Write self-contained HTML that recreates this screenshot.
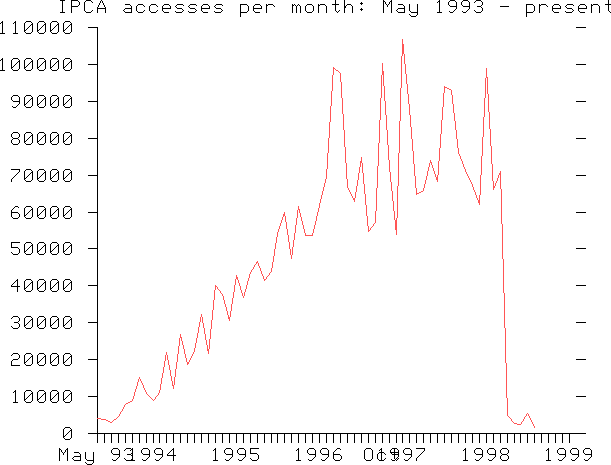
<!DOCTYPE html>
<html><head><meta charset="utf-8"><title>IPCA accesses per month</title>
<style>html,body{margin:0;padding:0;background:#fff;font-family:"Liberation Sans",sans-serif}svg{display:block}</style>
</head><body>
<svg width="611" height="465" viewBox="0 0 611 465" shape-rendering="crispEdges">
<rect width="611" height="465" fill="#fff"/>
<path fill="#000" d="M60 0h5v1h-5zM71 0h1v13h-1zM72 0h6v1h-6zM86 0h5v1h-5zM101 0h1v1h-1zM335 0h1v11h-1zM344 0h1v13h-1zM383 0h1v13h-1zM391 0h1v13h-1zM439 0h1v13h-1zM450 0h5v1h-5zM463 0h5v1h-5zM476 0h5v1h-5zM608 0h1v11h-1zM62 1h1v12h-1zM78 1h1v1h-1zM85 1h1v1h-1zM91 1h1v1h-1zM100 1h1v2h-1zM102 1h1v2h-1zM384 1h1v1h-1zM390 1h1v1h-1zM438 1h1v1h-1zM449 1h1v1h-1zM455 1h1v1h-1zM462 1h1v1h-1zM468 1h1v1h-1zM475 1h1v1h-1zM481 1h1v1h-1zM79 2h1v3h-1zM84 2h1v9h-1zM92 2h1v1h-1zM361 2h1v3h-1zM385 2h1v2h-1zM389 2h1v2h-1zM437 2h1v1h-1zM448 2h1v3h-1zM456 2h1v7h-1zM461 2h1v3h-1zM469 2h1v7h-1zM474 2h1v1h-1zM482 2h1v3h-1zM99 3h1v2h-1zM103 3h1v2h-1zM360 3h1v1h-1zM362 3h1v1h-1zM125 4h5v1h-5zM138 4h5v1h-5zM151 4h5v1h-5zM164 4h5v1h-5zM177 4h6v1h-6zM190 4h6v1h-6zM203 4h5v1h-5zM216 4h6v1h-6zM240 4h1v13h-1zM241 4h6v1h-6zM255 4h5v1h-5zM266 4h1v9h-1zM268 4h5v1h-5zM292 4h1v9h-1zM294 4h1v1h-1zM298 4h1v1h-1zM307 4h5v1h-5zM318 4h1v9h-1zM320 4h5v1h-5zM332 4h3v1h-3zM336 4h3v1h-3zM347 4h4v1h-4zM386 4h1v1h-1zM388 4h1v1h-1zM398 4h5v1h-5zM409 4h1v7h-1zM417 4h1v11h-1zM526 4h1v13h-1zM527 4h6v1h-6zM539 4h1v9h-1zM541 4h5v1h-5zM554 4h5v1h-5zM567 4h6v1h-6zM580 4h5v1h-5zM591 4h1v9h-1zM593 4h5v1h-5zM605 4h3v1h-3zM609 4h2v1h-2zM78 5h1v1h-1zM98 5h1v2h-1zM104 5h1v2h-1zM130 5h1v1h-1zM137 5h1v1h-1zM143 5h1v1h-1zM150 5h1v1h-1zM156 5h1v1h-1zM163 5h1v1h-1zM169 5h1v1h-1zM176 5h1v1h-1zM183 5h1v1h-1zM189 5h1v1h-1zM196 5h1v1h-1zM202 5h1v1h-1zM208 5h1v1h-1zM215 5h1v1h-1zM222 5h1v1h-1zM247 5h1v1h-1zM254 5h1v1h-1zM260 5h1v1h-1zM267 5h1v1h-1zM273 5h1v1h-1zM293 5h1v1h-1zM295 5h1v1h-1zM297 5h1v1h-1zM299 5h1v1h-1zM306 5h1v1h-1zM312 5h1v1h-1zM319 5h1v1h-1zM325 5h1v1h-1zM346 5h1v1h-1zM351 5h1v1h-1zM387 5h1v2h-1zM403 5h1v1h-1zM449 5h1v1h-1zM462 5h1v1h-1zM481 5h1v1h-1zM533 5h1v1h-1zM540 5h1v1h-1zM546 5h1v1h-1zM553 5h1v1h-1zM559 5h1v1h-1zM566 5h1v1h-1zM573 5h1v1h-1zM579 5h1v1h-1zM585 5h1v1h-1zM592 5h1v1h-1zM598 5h1v1h-1zM72 6h6v1h-6zM131 6h1v7h-1zM136 6h1v5h-1zM144 6h1v1h-1zM149 6h1v5h-1zM157 6h1v1h-1zM162 6h1v5h-1zM170 6h1v3h-1zM175 6h1v1h-1zM188 6h1v1h-1zM201 6h1v5h-1zM209 6h1v3h-1zM214 6h1v1h-1zM248 6h1v5h-1zM253 6h1v5h-1zM261 6h1v3h-1zM274 6h1v1h-1zM296 6h1v7h-1zM300 6h1v7h-1zM305 6h1v5h-1zM313 6h1v5h-1zM326 6h1v7h-1zM345 6h1v2h-1zM352 6h1v7h-1zM404 6h1v7h-1zM450 6h6v1h-6zM463 6h6v1h-6zM477 6h4v1h-4zM500 6h9v1h-9zM534 6h1v5h-1zM547 6h1v1h-1zM552 6h1v5h-1zM560 6h1v3h-1zM565 6h1v1h-1zM578 6h1v5h-1zM586 6h1v3h-1zM599 6h1v7h-1zM97 7h1v6h-1zM105 7h1v6h-1zM176 7h1v1h-1zM189 7h1v1h-1zM215 7h1v1h-1zM481 7h1v1h-1zM566 7h1v1h-1zM98 8h7v1h-7zM125 8h6v1h-6zM163 8h7v1h-7zM177 8h5v1h-5zM190 8h5v1h-5zM202 8h7v1h-7zM216 8h5v1h-5zM254 8h7v1h-7zM361 8h1v3h-1zM398 8h6v1h-6zM482 8h1v3h-1zM553 8h7v1h-7zM567 8h5v1h-5zM579 8h7v1h-7zM124 9h1v1h-1zM182 9h1v1h-1zM195 9h1v1h-1zM221 9h1v1h-1zM360 9h1v1h-1zM362 9h1v1h-1zM397 9h1v1h-1zM455 9h1v1h-1zM468 9h1v1h-1zM572 9h1v1h-1zM92 10h1v1h-1zM123 10h1v1h-1zM144 10h1v1h-1zM157 10h1v1h-1zM183 10h1v1h-1zM196 10h1v1h-1zM222 10h1v1h-1zM339 10h1v1h-1zM396 10h1v1h-1zM454 10h1v1h-1zM467 10h1v1h-1zM474 10h1v1h-1zM573 10h1v1h-1zM85 11h1v1h-1zM91 11h1v1h-1zM124 11h1v1h-1zM137 11h1v1h-1zM143 11h1v1h-1zM150 11h1v1h-1zM156 11h1v1h-1zM163 11h1v1h-1zM175 11h1v1h-1zM182 11h1v1h-1zM188 11h1v1h-1zM195 11h1v1h-1zM202 11h1v1h-1zM214 11h1v1h-1zM221 11h1v1h-1zM247 11h1v1h-1zM254 11h1v1h-1zM306 11h1v1h-1zM312 11h1v1h-1zM336 11h1v1h-1zM338 11h1v1h-1zM397 11h1v1h-1zM410 11h1v1h-1zM449 11h1v1h-1zM453 11h1v1h-1zM462 11h1v1h-1zM466 11h1v1h-1zM475 11h1v1h-1zM481 11h1v1h-1zM533 11h1v1h-1zM553 11h1v1h-1zM565 11h1v1h-1zM572 11h1v1h-1zM579 11h1v1h-1zM609 11h1v1h-1zM60 12h2v1h-2zM63 12h2v1h-2zM86 12h5v1h-5zM125 12h6v1h-6zM138 12h5v1h-5zM151 12h5v1h-5zM164 12h5v1h-5zM176 12h6v1h-6zM189 12h6v1h-6zM203 12h5v1h-5zM215 12h6v1h-6zM241 12h6v1h-6zM255 12h5v1h-5zM307 12h5v1h-5zM337 12h1v1h-1zM398 12h6v1h-6zM411 12h6v1h-6zM437 12h2v1h-2zM440 12h2v1h-2zM450 12h3v1h-3zM463 12h3v1h-3zM476 12h5v1h-5zM527 12h6v1h-6zM554 12h5v1h-5zM566 12h6v1h-6zM580 12h5v1h-5zM610 12h1v1h-1zM409 14h1v1h-1zM410 15h1v1h-1zM416 15h1v1h-1zM411 16h5v1h-5zM2 21h1v13h-1zM15 21h1v13h-1zM26 21h5v1h-5zM39 21h5v1h-5zM52 21h5v1h-5zM65 21h5v1h-5zM1 22h1v1h-1zM14 22h1v1h-1zM25 22h1v1h-1zM31 22h1v1h-1zM38 22h1v1h-1zM44 22h1v1h-1zM51 22h1v1h-1zM57 22h1v1h-1zM64 22h1v1h-1zM70 22h1v1h-1zM0 23h1v1h-1zM13 23h1v1h-1zM24 23h1v9h-1zM32 23h1v9h-1zM37 23h1v9h-1zM45 23h1v9h-1zM50 23h1v9h-1zM58 23h1v9h-1zM63 23h1v9h-1zM71 23h1v9h-1zM31 24h1v1h-1zM44 24h1v1h-1zM57 24h1v1h-1zM70 24h1v1h-1zM30 25h1v1h-1zM43 25h1v1h-1zM56 25h1v1h-1zM69 25h1v1h-1zM29 26h1v1h-1zM42 26h1v1h-1zM55 26h1v1h-1zM68 26h1v1h-1zM28 27h1v1h-1zM41 27h1v1h-1zM54 27h1v1h-1zM67 27h1v1h-1zM88 27h10v1h-10zM576 27h10v1h-10zM27 28h1v1h-1zM40 28h1v1h-1zM53 28h1v1h-1zM66 28h1v1h-1zM97 28h1v390h-1zM26 29h1v1h-1zM39 29h1v1h-1zM52 29h1v1h-1zM65 29h1v1h-1zM25 30h1v1h-1zM38 30h1v1h-1zM51 30h1v1h-1zM64 30h1v1h-1zM25 32h1v1h-1zM31 32h1v1h-1zM38 32h1v1h-1zM44 32h1v1h-1zM51 32h1v1h-1zM57 32h1v1h-1zM64 32h1v1h-1zM70 32h1v1h-1zM0 33h2v1h-2zM3 33h2v1h-2zM13 33h2v1h-2zM16 33h2v1h-2zM26 33h5v1h-5zM39 33h5v1h-5zM52 33h5v1h-5zM65 33h5v1h-5zM2 58h1v13h-1zM13 58h5v1h-5zM26 58h5v1h-5zM39 58h5v1h-5zM52 58h5v1h-5zM65 58h5v1h-5zM1 59h1v1h-1zM12 59h1v1h-1zM18 59h1v1h-1zM25 59h1v1h-1zM31 59h1v1h-1zM38 59h1v1h-1zM44 59h1v1h-1zM51 59h1v1h-1zM57 59h1v1h-1zM64 59h1v1h-1zM70 59h1v1h-1zM0 60h1v1h-1zM11 60h1v9h-1zM19 60h1v9h-1zM24 60h1v9h-1zM32 60h1v9h-1zM37 60h1v9h-1zM45 60h1v9h-1zM50 60h1v9h-1zM58 60h1v9h-1zM63 60h1v9h-1zM71 60h1v9h-1zM18 61h1v1h-1zM31 61h1v1h-1zM44 61h1v1h-1zM57 61h1v1h-1zM70 61h1v1h-1zM17 62h1v1h-1zM30 62h1v1h-1zM43 62h1v1h-1zM56 62h1v1h-1zM69 62h1v1h-1zM16 63h1v1h-1zM29 63h1v1h-1zM42 63h1v1h-1zM55 63h1v1h-1zM68 63h1v1h-1zM15 64h1v1h-1zM28 64h1v1h-1zM41 64h1v1h-1zM54 64h1v1h-1zM67 64h1v1h-1zM88 64h9v1h-9zM576 64h10v1h-10zM14 65h1v1h-1zM27 65h1v1h-1zM40 65h1v1h-1zM53 65h1v1h-1zM66 65h1v1h-1zM13 66h1v1h-1zM26 66h1v1h-1zM39 66h1v1h-1zM52 66h1v1h-1zM65 66h1v1h-1zM12 67h1v1h-1zM25 67h1v1h-1zM38 67h1v1h-1zM51 67h1v1h-1zM64 67h1v1h-1zM12 69h1v1h-1zM18 69h1v1h-1zM25 69h1v1h-1zM31 69h1v1h-1zM38 69h1v1h-1zM44 69h1v1h-1zM51 69h1v1h-1zM57 69h1v1h-1zM64 69h1v1h-1zM70 69h1v1h-1zM0 70h2v1h-2zM3 70h2v1h-2zM13 70h5v1h-5zM26 70h5v1h-5zM39 70h5v1h-5zM52 70h5v1h-5zM65 70h5v1h-5zM13 95h5v1h-5zM26 95h5v1h-5zM39 95h5v1h-5zM52 95h5v1h-5zM65 95h5v1h-5zM12 96h1v1h-1zM18 96h1v1h-1zM25 96h1v1h-1zM31 96h1v1h-1zM38 96h1v1h-1zM44 96h1v1h-1zM51 96h1v1h-1zM57 96h1v1h-1zM64 96h1v1h-1zM70 96h1v1h-1zM11 97h1v3h-1zM19 97h1v7h-1zM24 97h1v9h-1zM32 97h1v9h-1zM37 97h1v9h-1zM45 97h1v9h-1zM50 97h1v9h-1zM58 97h1v9h-1zM63 97h1v9h-1zM71 97h1v9h-1zM31 98h1v1h-1zM44 98h1v1h-1zM57 98h1v1h-1zM70 98h1v1h-1zM30 99h1v1h-1zM43 99h1v1h-1zM56 99h1v1h-1zM69 99h1v1h-1zM12 100h1v1h-1zM29 100h1v1h-1zM42 100h1v1h-1zM55 100h1v1h-1zM68 100h1v1h-1zM13 101h6v1h-6zM28 101h1v1h-1zM41 101h1v1h-1zM54 101h1v1h-1zM67 101h1v1h-1zM88 101h9v1h-9zM576 101h10v1h-10zM27 102h1v1h-1zM40 102h1v1h-1zM53 102h1v1h-1zM66 102h1v1h-1zM26 103h1v1h-1zM39 103h1v1h-1zM52 103h1v1h-1zM65 103h1v1h-1zM18 104h1v1h-1zM25 104h1v1h-1zM38 104h1v1h-1zM51 104h1v1h-1zM64 104h1v1h-1zM17 105h1v1h-1zM12 106h1v1h-1zM16 106h1v1h-1zM25 106h1v1h-1zM31 106h1v1h-1zM38 106h1v1h-1zM44 106h1v1h-1zM51 106h1v1h-1zM57 106h1v1h-1zM64 106h1v1h-1zM70 106h1v1h-1zM13 107h3v1h-3zM26 107h5v1h-5zM39 107h5v1h-5zM52 107h5v1h-5zM65 107h5v1h-5zM13 132h5v1h-5zM26 132h5v1h-5zM39 132h5v1h-5zM52 132h5v1h-5zM65 132h5v1h-5zM12 133h1v1h-1zM18 133h1v1h-1zM25 133h1v1h-1zM31 133h1v1h-1zM38 133h1v1h-1zM44 133h1v1h-1zM51 133h1v1h-1zM57 133h1v1h-1zM64 133h1v1h-1zM70 133h1v1h-1zM11 134h1v3h-1zM19 134h1v3h-1zM24 134h1v9h-1zM32 134h1v9h-1zM37 134h1v9h-1zM45 134h1v9h-1zM50 134h1v9h-1zM58 134h1v9h-1zM63 134h1v9h-1zM71 134h1v9h-1zM31 135h1v1h-1zM44 135h1v1h-1zM57 135h1v1h-1zM70 135h1v1h-1zM30 136h1v1h-1zM43 136h1v1h-1zM56 136h1v1h-1zM69 136h1v1h-1zM12 137h1v1h-1zM18 137h1v1h-1zM29 137h1v1h-1zM42 137h1v1h-1zM55 137h1v1h-1zM68 137h1v1h-1zM13 138h5v1h-5zM28 138h1v1h-1zM41 138h1v1h-1zM54 138h1v1h-1zM67 138h1v1h-1zM88 138h9v1h-9zM576 138h10v1h-10zM12 139h1v1h-1zM18 139h1v1h-1zM27 139h1v1h-1zM40 139h1v1h-1zM53 139h1v1h-1zM66 139h1v1h-1zM11 140h1v3h-1zM19 140h1v3h-1zM26 140h1v1h-1zM39 140h1v1h-1zM52 140h1v1h-1zM65 140h1v1h-1zM25 141h1v1h-1zM38 141h1v1h-1zM51 141h1v1h-1zM64 141h1v1h-1zM12 143h1v1h-1zM18 143h1v1h-1zM25 143h1v1h-1zM31 143h1v1h-1zM38 143h1v1h-1zM44 143h1v1h-1zM51 143h1v1h-1zM57 143h1v1h-1zM64 143h1v1h-1zM70 143h1v1h-1zM13 144h5v1h-5zM26 144h5v1h-5zM39 144h5v1h-5zM52 144h5v1h-5zM65 144h5v1h-5zM11 169h9v1h-9zM26 169h5v1h-5zM39 169h5v1h-5zM52 169h5v1h-5zM65 169h5v1h-5zM19 170h1v2h-1zM25 170h1v1h-1zM31 170h1v1h-1zM38 170h1v1h-1zM44 170h1v1h-1zM51 170h1v1h-1zM57 170h1v1h-1zM64 170h1v1h-1zM70 170h1v1h-1zM24 171h1v9h-1zM32 171h1v9h-1zM37 171h1v9h-1zM45 171h1v9h-1zM50 171h1v9h-1zM58 171h1v9h-1zM63 171h1v9h-1zM71 171h1v9h-1zM18 172h1v1h-1zM31 172h1v1h-1zM44 172h1v1h-1zM57 172h1v1h-1zM70 172h1v1h-1zM17 173h1v1h-1zM30 173h1v1h-1zM43 173h1v1h-1zM56 173h1v1h-1zM69 173h1v1h-1zM16 174h1v1h-1zM29 174h1v1h-1zM42 174h1v1h-1zM55 174h1v1h-1zM68 174h1v1h-1zM15 175h1v1h-1zM28 175h1v1h-1zM41 175h1v1h-1zM54 175h1v1h-1zM67 175h1v1h-1zM88 175h9v1h-9zM576 175h10v1h-10zM14 176h1v1h-1zM27 176h1v1h-1zM40 176h1v1h-1zM53 176h1v1h-1zM66 176h1v1h-1zM13 177h1v1h-1zM26 177h1v1h-1zM39 177h1v1h-1zM52 177h1v1h-1zM65 177h1v1h-1zM12 178h1v1h-1zM25 178h1v1h-1zM38 178h1v1h-1zM51 178h1v1h-1zM64 178h1v1h-1zM11 179h1v3h-1zM25 180h1v1h-1zM31 180h1v1h-1zM38 180h1v1h-1zM44 180h1v1h-1zM51 180h1v1h-1zM57 180h1v1h-1zM64 180h1v1h-1zM70 180h1v1h-1zM26 181h5v1h-5zM39 181h5v1h-5zM52 181h5v1h-5zM65 181h5v1h-5zM15 206h3v1h-3zM26 206h5v1h-5zM39 206h5v1h-5zM52 206h5v1h-5zM65 206h5v1h-5zM14 207h1v1h-1zM18 207h1v1h-1zM25 207h1v1h-1zM31 207h1v1h-1zM38 207h1v1h-1zM44 207h1v1h-1zM51 207h1v1h-1zM57 207h1v1h-1zM64 207h1v1h-1zM70 207h1v1h-1zM13 208h1v1h-1zM24 208h1v9h-1zM32 208h1v9h-1zM37 208h1v9h-1zM45 208h1v9h-1zM50 208h1v9h-1zM58 208h1v9h-1zM63 208h1v9h-1zM71 208h1v9h-1zM12 209h1v1h-1zM31 209h1v1h-1zM44 209h1v1h-1zM57 209h1v1h-1zM70 209h1v1h-1zM11 210h1v7h-1zM30 210h1v1h-1zM43 210h1v1h-1zM56 210h1v1h-1zM69 210h1v1h-1zM29 211h1v1h-1zM42 211h1v1h-1zM55 211h1v1h-1zM68 211h1v1h-1zM12 212h6v1h-6zM28 212h1v1h-1zM41 212h1v1h-1zM54 212h1v1h-1zM67 212h1v1h-1zM88 212h9v1h-9zM576 212h10v1h-10zM18 213h1v1h-1zM27 213h1v1h-1zM40 213h1v1h-1zM53 213h1v1h-1zM66 213h1v1h-1zM19 214h1v3h-1zM26 214h1v1h-1zM39 214h1v1h-1zM52 214h1v1h-1zM65 214h1v1h-1zM25 215h1v1h-1zM38 215h1v1h-1zM51 215h1v1h-1zM64 215h1v1h-1zM12 217h1v1h-1zM18 217h1v1h-1zM25 217h1v1h-1zM31 217h1v1h-1zM38 217h1v1h-1zM44 217h1v1h-1zM51 217h1v1h-1zM57 217h1v1h-1zM64 217h1v1h-1zM70 217h1v1h-1zM13 218h5v1h-5zM26 218h5v1h-5zM39 218h5v1h-5zM52 218h5v1h-5zM65 218h5v1h-5zM11 242h9v1h-9zM26 242h5v1h-5zM39 242h5v1h-5zM52 242h5v1h-5zM65 242h5v1h-5zM11 243h1v5h-1zM25 243h1v1h-1zM31 243h1v1h-1zM38 243h1v1h-1zM44 243h1v1h-1zM51 243h1v1h-1zM57 243h1v1h-1zM64 243h1v1h-1zM70 243h1v1h-1zM24 244h1v9h-1zM32 244h1v9h-1zM37 244h1v9h-1zM45 244h1v9h-1zM50 244h1v9h-1zM58 244h1v9h-1zM63 244h1v9h-1zM71 244h1v9h-1zM31 245h1v1h-1zM44 245h1v1h-1zM57 245h1v1h-1zM70 245h1v1h-1zM30 246h1v1h-1zM43 246h1v1h-1zM56 246h1v1h-1zM69 246h1v1h-1zM12 247h6v1h-6zM29 247h1v1h-1zM42 247h1v1h-1zM55 247h1v1h-1zM68 247h1v1h-1zM18 248h1v1h-1zM28 248h1v1h-1zM41 248h1v1h-1zM54 248h1v1h-1zM67 248h1v1h-1zM88 248h9v1h-9zM576 248h10v1h-10zM19 249h1v4h-1zM27 249h1v1h-1zM40 249h1v1h-1zM53 249h1v1h-1zM66 249h1v1h-1zM26 250h1v1h-1zM39 250h1v1h-1zM52 250h1v1h-1zM65 250h1v1h-1zM25 251h1v1h-1zM38 251h1v1h-1zM51 251h1v1h-1zM64 251h1v1h-1zM11 252h1v1h-1zM12 253h1v1h-1zM18 253h1v1h-1zM25 253h1v1h-1zM31 253h1v1h-1zM38 253h1v1h-1zM44 253h1v1h-1zM51 253h1v1h-1zM57 253h1v1h-1zM64 253h1v1h-1zM70 253h1v1h-1zM13 254h5v1h-5zM26 254h5v1h-5zM39 254h5v1h-5zM52 254h5v1h-5zM65 254h5v1h-5zM17 279h1v13h-1zM26 279h5v1h-5zM39 279h5v1h-5zM52 279h5v1h-5zM65 279h5v1h-5zM16 280h1v1h-1zM25 280h1v1h-1zM31 280h1v1h-1zM38 280h1v1h-1zM44 280h1v1h-1zM51 280h1v1h-1zM57 280h1v1h-1zM64 280h1v1h-1zM70 280h1v1h-1zM15 281h1v1h-1zM24 281h1v9h-1zM32 281h1v9h-1zM37 281h1v9h-1zM45 281h1v9h-1zM50 281h1v9h-1zM58 281h1v9h-1zM63 281h1v9h-1zM71 281h1v9h-1zM14 282h1v1h-1zM31 282h1v1h-1zM44 282h1v1h-1zM57 282h1v1h-1zM70 282h1v1h-1zM13 283h1v1h-1zM30 283h1v1h-1zM43 283h1v1h-1zM56 283h1v1h-1zM69 283h1v1h-1zM12 284h1v1h-1zM29 284h1v1h-1zM42 284h1v1h-1zM55 284h1v1h-1zM68 284h1v1h-1zM11 285h1v2h-1zM28 285h1v1h-1zM41 285h1v1h-1zM54 285h1v1h-1zM67 285h1v1h-1zM88 285h9v1h-9zM576 285h10v1h-10zM12 286h5v1h-5zM18 286h2v1h-2zM27 286h1v1h-1zM40 286h1v1h-1zM53 286h1v1h-1zM66 286h1v1h-1zM26 287h1v1h-1zM39 287h1v1h-1zM52 287h1v1h-1zM65 287h1v1h-1zM25 288h1v1h-1zM38 288h1v1h-1zM51 288h1v1h-1zM64 288h1v1h-1zM25 290h1v1h-1zM31 290h1v1h-1zM38 290h1v1h-1zM44 290h1v1h-1zM51 290h1v1h-1zM57 290h1v1h-1zM64 290h1v1h-1zM70 290h1v1h-1zM26 291h5v1h-5zM39 291h5v1h-5zM52 291h5v1h-5zM65 291h5v1h-5zM13 316h5v1h-5zM26 316h5v1h-5zM39 316h5v1h-5zM52 316h5v1h-5zM65 316h5v1h-5zM12 317h1v1h-1zM18 317h1v1h-1zM25 317h1v1h-1zM31 317h1v1h-1zM38 317h1v1h-1zM44 317h1v1h-1zM51 317h1v1h-1zM57 317h1v1h-1zM64 317h1v1h-1zM70 317h1v1h-1zM11 318h1v1h-1zM19 318h1v3h-1zM24 318h1v9h-1zM32 318h1v9h-1zM37 318h1v9h-1zM45 318h1v9h-1zM50 318h1v9h-1zM58 318h1v9h-1zM63 318h1v9h-1zM71 318h1v9h-1zM31 319h1v1h-1zM44 319h1v1h-1zM57 319h1v1h-1zM70 319h1v1h-1zM30 320h1v1h-1zM43 320h1v1h-1zM56 320h1v1h-1zM69 320h1v1h-1zM18 321h1v1h-1zM29 321h1v1h-1zM42 321h1v1h-1zM55 321h1v1h-1zM68 321h1v1h-1zM14 322h4v1h-4zM28 322h1v1h-1zM41 322h1v1h-1zM54 322h1v1h-1zM67 322h1v1h-1zM88 322h9v1h-9zM576 322h10v1h-10zM18 323h1v1h-1zM27 323h1v1h-1zM40 323h1v1h-1zM53 323h1v1h-1zM66 323h1v1h-1zM19 324h1v3h-1zM26 324h1v1h-1zM39 324h1v1h-1zM52 324h1v1h-1zM65 324h1v1h-1zM25 325h1v1h-1zM38 325h1v1h-1zM51 325h1v1h-1zM64 325h1v1h-1zM11 326h1v1h-1zM12 327h1v1h-1zM18 327h1v1h-1zM25 327h1v1h-1zM31 327h1v1h-1zM38 327h1v1h-1zM44 327h1v1h-1zM51 327h1v1h-1zM57 327h1v1h-1zM64 327h1v1h-1zM70 327h1v1h-1zM13 328h5v1h-5zM26 328h5v1h-5zM39 328h5v1h-5zM52 328h5v1h-5zM65 328h5v1h-5zM13 353h5v1h-5zM26 353h5v1h-5zM39 353h5v1h-5zM52 353h5v1h-5zM65 353h5v1h-5zM12 354h1v1h-1zM18 354h1v1h-1zM25 354h1v1h-1zM31 354h1v1h-1zM38 354h1v1h-1zM44 354h1v1h-1zM51 354h1v1h-1zM57 354h1v1h-1zM64 354h1v1h-1zM70 354h1v1h-1zM11 355h1v1h-1zM19 355h1v3h-1zM24 355h1v9h-1zM32 355h1v9h-1zM37 355h1v9h-1zM45 355h1v9h-1zM50 355h1v9h-1zM58 355h1v9h-1zM63 355h1v9h-1zM71 355h1v9h-1zM31 356h1v1h-1zM44 356h1v1h-1zM57 356h1v1h-1zM70 356h1v1h-1zM30 357h1v1h-1zM43 357h1v1h-1zM56 357h1v1h-1zM69 357h1v1h-1zM18 358h1v1h-1zM29 358h1v1h-1zM42 358h1v1h-1zM55 358h1v1h-1zM68 358h1v1h-1zM13 359h5v1h-5zM28 359h1v1h-1zM41 359h1v1h-1zM54 359h1v1h-1zM67 359h1v1h-1zM88 359h9v1h-9zM576 359h10v1h-10zM12 360h1v1h-1zM27 360h1v1h-1zM40 360h1v1h-1zM53 360h1v1h-1zM66 360h1v1h-1zM11 361h1v5h-1zM26 361h1v1h-1zM39 361h1v1h-1zM52 361h1v1h-1zM65 361h1v1h-1zM25 362h1v1h-1zM38 362h1v1h-1zM51 362h1v1h-1zM64 362h1v1h-1zM25 364h1v1h-1zM31 364h1v1h-1zM38 364h1v1h-1zM44 364h1v1h-1zM51 364h1v1h-1zM57 364h1v1h-1zM64 364h1v1h-1zM70 364h1v1h-1zM12 365h8v1h-8zM26 365h5v1h-5zM39 365h5v1h-5zM52 365h5v1h-5zM65 365h5v1h-5zM15 390h1v13h-1zM26 390h5v1h-5zM39 390h5v1h-5zM52 390h5v1h-5zM65 390h5v1h-5zM14 391h1v1h-1zM25 391h1v1h-1zM31 391h1v1h-1zM38 391h1v1h-1zM44 391h1v1h-1zM51 391h1v1h-1zM57 391h1v1h-1zM64 391h1v1h-1zM70 391h1v1h-1zM13 392h1v1h-1zM24 392h1v9h-1zM32 392h1v9h-1zM37 392h1v9h-1zM45 392h1v9h-1zM50 392h1v9h-1zM58 392h1v9h-1zM63 392h1v9h-1zM71 392h1v9h-1zM31 393h1v1h-1zM44 393h1v1h-1zM57 393h1v1h-1zM70 393h1v1h-1zM30 394h1v1h-1zM43 394h1v1h-1zM56 394h1v1h-1zM69 394h1v1h-1zM29 395h1v1h-1zM42 395h1v1h-1zM55 395h1v1h-1zM68 395h1v1h-1zM28 396h1v1h-1zM41 396h1v1h-1zM54 396h1v1h-1zM67 396h1v1h-1zM88 396h9v1h-9zM576 396h10v1h-10zM27 397h1v1h-1zM40 397h1v1h-1zM53 397h1v1h-1zM66 397h1v1h-1zM26 398h1v1h-1zM39 398h1v1h-1zM52 398h1v1h-1zM65 398h1v1h-1zM25 399h1v1h-1zM38 399h1v1h-1zM51 399h1v1h-1zM64 399h1v1h-1zM25 401h1v1h-1zM31 401h1v1h-1zM38 401h1v1h-1zM44 401h1v1h-1zM51 401h1v1h-1zM57 401h1v1h-1zM64 401h1v1h-1zM70 401h1v1h-1zM13 402h2v1h-2zM16 402h2v1h-2zM26 402h5v1h-5zM39 402h5v1h-5zM52 402h5v1h-5zM65 402h5v1h-5zM97 419h1v24h-1zM65 427h5v1h-5zM64 428h1v1h-1zM70 428h1v1h-1zM63 429h1v9h-1zM71 429h1v9h-1zM70 430h1v1h-1zM69 431h1v1h-1zM68 432h1v1h-1zM67 433h1v1h-1zM88 433h9v1h-9zM98 433h488v1h-488zM66 434h1v1h-1zM104 434h1v9h-1zM111 434h1v9h-1zM118 434h1v9h-1zM125 434h1v9h-1zM132 434h1v9h-1zM139 434h1v9h-1zM146 434h1v9h-1zM153 434h1v9h-1zM159 434h1v9h-1zM166 434h1v9h-1zM173 434h1v9h-1zM180 434h1v9h-1zM187 434h1v9h-1zM194 434h1v9h-1zM201 434h1v9h-1zM208 434h1v9h-1zM215 434h1v9h-1zM222 434h1v9h-1zM229 434h1v9h-1zM236 434h1v9h-1zM243 434h1v9h-1zM250 434h1v9h-1zM257 434h1v9h-1zM264 434h1v9h-1zM271 434h1v9h-1zM277 434h1v9h-1zM284 434h1v9h-1zM291 434h1v9h-1zM298 434h1v9h-1zM305 434h1v9h-1zM312 434h1v9h-1zM319 434h1v9h-1zM326 434h1v9h-1zM333 434h1v9h-1zM340 434h1v9h-1zM347 434h1v9h-1zM354 434h1v9h-1zM361 434h1v9h-1zM368 434h1v9h-1zM375 434h1v9h-1zM382 434h1v9h-1zM389 434h1v9h-1zM396 434h1v9h-1zM402 434h1v9h-1zM409 434h1v9h-1zM416 434h1v9h-1zM423 434h1v9h-1zM430 434h1v9h-1zM437 434h1v9h-1zM444 434h1v9h-1zM451 434h1v9h-1zM458 434h1v9h-1zM465 434h1v9h-1zM472 434h1v9h-1zM479 434h1v9h-1zM486 434h1v9h-1zM493 434h1v9h-1zM500 434h1v9h-1zM507 434h1v9h-1zM514 434h1v9h-1zM520 434h1v9h-1zM527 434h1v9h-1zM534 434h1v9h-1zM541 434h1v9h-1zM548 434h1v9h-1zM555 434h1v9h-1zM562 434h1v9h-1zM569 434h1v9h-1zM65 435h1v1h-1zM64 436h1v1h-1zM64 438h1v1h-1zM70 438h1v1h-1zM65 439h5v1h-5zM59 448h1v13h-1zM67 448h1v13h-1zM113 448h5v1h-5zM126 448h5v1h-5zM132 448h1v13h-1zM143 448h5v1h-5zM156 448h5v1h-5zM173 448h1v13h-1zM215 448h1v13h-1zM226 448h5v1h-5zM239 448h5v1h-5zM250 448h9v1h-9zM298 448h1v13h-1zM309 448h5v1h-5zM322 448h5v1h-5zM337 448h3v1h-3zM366 448h5v1h-5zM381 448h1v13h-1zM392 448h5v1h-5zM405 448h5v1h-5zM416 448h9v1h-9zM465 448h1v13h-1zM476 448h5v1h-5zM489 448h5v1h-5zM502 448h5v1h-5zM548 448h1v13h-1zM559 448h5v1h-5zM572 448h5v1h-5zM585 448h5v1h-5zM60 449h1v1h-1zM66 449h1v1h-1zM112 449h1v1h-1zM118 449h1v1h-1zM125 449h1v1h-1zM131 449h1v1h-1zM142 449h1v1h-1zM148 449h1v1h-1zM155 449h1v1h-1zM161 449h1v1h-1zM172 449h1v1h-1zM214 449h1v1h-1zM225 449h1v1h-1zM231 449h1v1h-1zM238 449h1v1h-1zM244 449h1v1h-1zM250 449h1v5h-1zM297 449h1v1h-1zM308 449h1v1h-1zM314 449h1v1h-1zM321 449h1v1h-1zM327 449h1v1h-1zM336 449h1v1h-1zM340 449h1v1h-1zM365 449h1v1h-1zM371 449h1v1h-1zM380 449h1v1h-1zM391 449h1v1h-1zM394 449h1v10h-1zM397 449h1v1h-1zM404 449h1v1h-1zM410 449h1v1h-1zM424 449h1v2h-1zM464 449h1v1h-1zM475 449h1v1h-1zM481 449h1v1h-1zM488 449h1v1h-1zM494 449h1v1h-1zM501 449h1v1h-1zM507 449h1v1h-1zM547 449h1v1h-1zM558 449h1v1h-1zM564 449h1v1h-1zM571 449h1v1h-1zM577 449h1v1h-1zM584 449h1v1h-1zM590 449h1v1h-1zM61 450h1v2h-1zM65 450h1v2h-1zM111 450h1v3h-1zM119 450h1v7h-1zM124 450h1v1h-1zM130 450h1v1h-1zM141 450h1v3h-1zM149 450h1v7h-1zM154 450h1v3h-1zM162 450h1v7h-1zM171 450h1v1h-1zM213 450h1v1h-1zM224 450h1v3h-1zM232 450h1v7h-1zM237 450h1v3h-1zM245 450h1v7h-1zM296 450h1v1h-1zM307 450h1v3h-1zM315 450h1v7h-1zM320 450h1v3h-1zM328 450h1v7h-1zM335 450h1v1h-1zM364 450h1v9h-1zM372 450h1v9h-1zM379 450h1v1h-1zM390 450h1v3h-1zM398 450h1v7h-1zM403 450h1v3h-1zM411 450h1v7h-1zM463 450h1v1h-1zM474 450h1v3h-1zM482 450h1v7h-1zM487 450h1v3h-1zM495 450h1v7h-1zM500 450h1v3h-1zM508 450h1v3h-1zM546 450h1v1h-1zM557 450h1v3h-1zM565 450h1v7h-1zM570 450h1v3h-1zM578 450h1v7h-1zM583 450h1v3h-1zM591 450h1v7h-1zM170 451h1v1h-1zM334 451h1v1h-1zM423 451h1v1h-1zM62 452h1v1h-1zM64 452h1v1h-1zM74 452h5v1h-5zM85 452h1v7h-1zM93 452h1v11h-1zM169 452h1v1h-1zM333 452h1v7h-1zM379 452h2v1h-2zM382 452h2v1h-2zM391 452h3v1h-3zM395 452h3v1h-3zM422 452h1v1h-1zM63 453h1v2h-1zM79 453h1v1h-1zM112 453h1v1h-1zM131 453h1v1h-1zM142 453h1v1h-1zM155 453h1v1h-1zM168 453h1v1h-1zM225 453h1v1h-1zM238 453h1v1h-1zM251 453h6v1h-6zM308 453h1v1h-1zM321 453h1v1h-1zM378 453h1v1h-1zM384 453h1v1h-1zM391 453h1v1h-1zM404 453h1v1h-1zM421 453h1v1h-1zM475 453h1v1h-1zM488 453h1v1h-1zM501 453h1v1h-1zM507 453h1v1h-1zM558 453h1v1h-1zM571 453h1v1h-1zM584 453h1v1h-1zM80 454h1v7h-1zM113 454h6v1h-6zM127 454h4v1h-4zM143 454h6v1h-6zM156 454h6v1h-6zM167 454h1v2h-1zM226 454h6v1h-6zM239 454h6v1h-6zM257 454h1v1h-1zM309 454h6v1h-6zM322 454h6v1h-6zM334 454h6v1h-6zM377 454h1v5h-1zM385 454h1v1h-1zM392 454h2v1h-2zM395 454h3v1h-3zM405 454h6v1h-6zM420 454h1v1h-1zM476 454h6v1h-6zM489 454h6v1h-6zM502 454h5v1h-5zM559 454h6v1h-6zM572 454h6v1h-6zM585 454h6v1h-6zM131 455h1v1h-1zM168 455h5v1h-5zM174 455h2v1h-2zM258 455h1v4h-1zM340 455h1v1h-1zM419 455h1v1h-1zM501 455h1v1h-1zM507 455h1v1h-1zM74 456h6v1h-6zM341 456h1v3h-1zM418 456h1v1h-1zM500 456h1v3h-1zM508 456h1v3h-1zM73 457h1v1h-1zM118 457h1v1h-1zM148 457h1v1h-1zM161 457h1v1h-1zM231 457h1v1h-1zM244 457h1v1h-1zM314 457h1v1h-1zM327 457h1v1h-1zM397 457h1v1h-1zM410 457h1v1h-1zM417 457h1v1h-1zM481 457h1v1h-1zM494 457h1v1h-1zM564 457h1v1h-1zM577 457h1v1h-1zM590 457h1v1h-1zM72 458h1v1h-1zM117 458h1v1h-1zM124 458h1v1h-1zM147 458h1v1h-1zM160 458h1v1h-1zM230 458h1v1h-1zM243 458h1v1h-1zM250 458h1v1h-1zM313 458h1v1h-1zM326 458h1v1h-1zM385 458h1v1h-1zM396 458h1v1h-1zM398 458h1v1h-1zM409 458h1v1h-1zM416 458h1v3h-1zM480 458h1v1h-1zM493 458h1v1h-1zM563 458h1v1h-1zM576 458h1v1h-1zM589 458h1v1h-1zM73 459h1v1h-1zM86 459h1v1h-1zM112 459h1v1h-1zM116 459h1v1h-1zM125 459h1v1h-1zM131 459h1v2h-1zM142 459h1v1h-1zM146 459h1v1h-1zM155 459h1v1h-1zM159 459h1v1h-1zM225 459h1v1h-1zM229 459h1v1h-1zM238 459h1v1h-1zM242 459h1v1h-1zM251 459h1v1h-1zM257 459h1v1h-1zM308 459h1v1h-1zM312 459h1v1h-1zM321 459h1v1h-1zM325 459h1v1h-1zM334 459h1v1h-1zM340 459h1v1h-1zM365 459h1v1h-1zM371 459h1v1h-1zM378 459h1v1h-1zM384 459h1v1h-1zM391 459h1v1h-1zM395 459h1v1h-1zM397 459h1v1h-1zM404 459h1v1h-1zM408 459h1v1h-1zM475 459h1v1h-1zM479 459h1v1h-1zM488 459h1v1h-1zM492 459h1v1h-1zM501 459h1v1h-1zM507 459h1v1h-1zM558 459h1v1h-1zM562 459h1v1h-1zM571 459h1v1h-1zM575 459h1v1h-1zM584 459h1v1h-1zM588 459h1v1h-1zM74 460h6v1h-6zM87 460h6v1h-6zM113 460h3v1h-3zM126 460h5v1h-5zM133 460h2v1h-2zM143 460h3v1h-3zM156 460h3v1h-3zM213 460h2v1h-2zM216 460h2v1h-2zM226 460h3v1h-3zM239 460h3v1h-3zM252 460h5v1h-5zM296 460h2v1h-2zM299 460h2v1h-2zM309 460h3v1h-3zM322 460h3v1h-3zM335 460h5v1h-5zM366 460h5v1h-5zM379 460h2v1h-2zM382 460h2v1h-2zM392 460h3v1h-3zM396 460h1v1h-1zM405 460h3v1h-3zM463 460h2v1h-2zM466 460h2v1h-2zM476 460h3v1h-3zM489 460h3v1h-3zM502 460h5v1h-5zM546 460h2v1h-2zM549 460h2v1h-2zM559 460h3v1h-3zM572 460h3v1h-3zM585 460h3v1h-3zM85 462h1v1h-1zM86 463h1v1h-1zM92 463h1v1h-1zM87 464h5v1h-5z"/>
<path fill="rgb(255,85,85)" d="M402 39h1v17h-1zM403 44h1v10h-1zM404 54h1v10h-1zM401 56h1v32h-1zM382 63h1v12h-1zM405 64h1v10h-1zM333 67h1v8h-1zM334 68h1v1h-1zM486 68h1v10h-1zM335 69h1v1h-1zM336 70h2v1h-2zM338 71h1v1h-1zM383 71h1v15h-1zM339 72h1v1h-1zM340 73h1v9h-1zM406 74h1v10h-1zM332 75h1v16h-1zM381 75h1v23h-1zM487 77h1v17h-1zM485 78h1v20h-1zM341 82h1v16h-1zM407 84h1v10h-1zM384 86h1v15h-1zM444 86h1v7h-1zM445 87h2v1h-2zM400 88h1v33h-1zM447 88h2v1h-2zM449 89h2v1h-2zM451 90h1v5h-1zM331 91h1v15h-1zM443 93h1v14h-1zM408 94h1v10h-1zM488 94h1v18h-1zM452 95h1v9h-1zM342 98h1v16h-1zM380 98h1v22h-1zM484 98h1v19h-1zM385 101h1v14h-1zM409 104h1v11h-1zM453 104h1v9h-1zM330 106h1v16h-1zM442 107h1v13h-1zM489 112h1v17h-1zM454 113h1v8h-1zM343 114h1v16h-1zM386 115h1v15h-1zM410 115h1v12h-1zM483 117h1v20h-1zM379 120h1v23h-1zM441 120h1v14h-1zM399 121h1v32h-1zM455 121h1v9h-1zM329 122h1v16h-1zM411 127h1v12h-1zM490 129h1v17h-1zM344 130h1v17h-1zM387 130h1v15h-1zM456 130h1v9h-1zM440 134h1v14h-1zM482 137h1v19h-1zM328 138h1v15h-1zM412 139h1v12h-1zM457 139h1v9h-1zM378 143h1v23h-1zM388 145h1v15h-1zM491 146h1v18h-1zM345 147h1v16h-1zM439 148h1v13h-1zM458 148h1v6h-1zM413 151h1v13h-1zM327 153h1v16h-1zM398 153h1v33h-1zM459 154h1v2h-1zM460 156h1v3h-1zM481 156h1v19h-1zM361 157h1v6h-1zM461 159h1v2h-1zM389 160h1v12h-1zM430 160h1v3h-1zM360 161h1v6h-1zM438 161h1v14h-1zM462 161h1v3h-1zM431 162h1v3h-1zM346 163h1v16h-1zM362 163h1v10h-1zM429 163h1v4h-1zM414 164h1v12h-1zM463 164h1v3h-1zM492 164h1v17h-1zM432 165h1v3h-1zM377 166h1v22h-1zM359 167h1v6h-1zM428 167h1v4h-1zM464 167h1v2h-1zM433 168h1v3h-1zM326 169h1v10h-1zM465 169h1v3h-1zM427 171h1v5h-1zM434 171h1v3h-1zM500 171h1v18h-1zM390 172h1v10h-1zM466 172h1v2h-1zM358 173h1v7h-1zM363 173h1v11h-1zM499 173h1v2h-1zM435 174h1v3h-1zM467 174h1v2h-1zM437 175h1v7h-1zM480 175h1v20h-1zM498 175h1v3h-1zM415 176h1v12h-1zM426 176h1v4h-1zM468 176h1v2h-1zM436 177h1v3h-1zM469 178h1v2h-1zM497 178h1v3h-1zM325 179h1v4h-1zM347 179h1v9h-1zM357 180h1v6h-1zM425 180h1v4h-1zM470 180h1v2h-1zM493 181h1v9h-1zM496 181h1v2h-1zM391 182h1v9h-1zM471 182h1v2h-1zM324 183h1v4h-1zM495 183h1v3h-1zM364 184h1v10h-1zM424 184h1v4h-1zM472 184h1v3h-1zM356 186h1v6h-1zM397 186h1v32h-1zM494 186h1v2h-1zM323 187h1v4h-1zM473 187h1v3h-1zM348 188h1v2h-1zM376 188h1v23h-1zM416 188h1v7h-1zM423 188h1v3h-1zM501 189h1v35h-1zM349 190h1v2h-1zM474 190h1v2h-1zM322 191h1v4h-1zM392 191h1v10h-1zM421 191h2v1h-2zM350 192h1v2h-1zM355 192h1v6h-1zM419 192h2v1h-2zM475 192h1v3h-1zM417 193h2v1h-2zM351 194h1v2h-1zM365 194h1v11h-1zM321 195h1v4h-1zM476 195h1v3h-1zM479 195h1v10h-1zM352 196h1v2h-1zM353 198h2v1h-2zM477 198h1v2h-1zM320 199h1v4h-1zM353 199h2v1h-2zM354 200h1v2h-1zM478 200h1v3h-1zM393 201h1v10h-1zM319 203h1v5h-1zM366 205h1v11h-1zM298 206h1v4h-1zM318 208h1v4h-1zM299 209h1v4h-1zM297 210h1v8h-1zM375 211h1v12h-1zM394 211h1v9h-1zM284 212h1v4h-1zM317 212h1v4h-1zM300 213h1v4h-1zM283 214h1v3h-1zM285 216h1v6h-1zM316 216h1v5h-1zM367 216h1v10h-1zM282 217h1v3h-1zM301 217h1v4h-1zM296 218h1v7h-1zM396 218h1v17h-1zM281 220h1v3h-1zM395 220h1v10h-1zM302 221h1v4h-1zM315 221h1v4h-1zM286 222h1v7h-1zM280 223h1v3h-1zM374 223h1v1h-1zM373 224h1v2h-1zM502 224h1v35h-1zM295 225h1v8h-1zM303 225h1v4h-1zM314 225h1v4h-1zM279 226h1v3h-1zM368 226h1v6h-1zM372 226h1v1h-1zM371 227h1v1h-1zM370 228h1v2h-1zM278 229h1v3h-1zM287 229h1v6h-1zM304 229h1v4h-1zM313 229h1v4h-1zM369 230h1v1h-1zM277 232h1v5h-1zM294 233h1v7h-1zM305 233h1v3h-1zM312 233h1v3h-1zM288 235h1v7h-1zM306 235h6v1h-6zM276 237h1v6h-1zM293 240h1v7h-1zM289 242h1v7h-1zM275 243h1v6h-1zM292 247h1v8h-1zM274 249h1v7h-1zM290 249h1v6h-1zM291 255h1v4h-1zM273 256h1v6h-1zM503 259h1v34h-1zM257 261h1v2h-1zM256 262h1v2h-1zM272 262h1v6h-1zM258 263h1v3h-1zM255 264h1v1h-1zM254 265h1v2h-1zM259 266h1v2h-1zM253 267h1v2h-1zM260 268h1v3h-1zM271 268h1v4h-1zM252 269h1v1h-1zM251 270h1v2h-1zM261 271h1v3h-1zM250 272h1v2h-1zM270 272h1v1h-1zM269 273h1v2h-1zM249 274h1v4h-1zM262 274h1v2h-1zM236 275h1v4h-1zM268 275h1v1h-1zM263 276h1v3h-1zM267 276h1v1h-1zM237 277h1v3h-1zM266 277h1v2h-1zM248 278h1v3h-1zM235 279h1v6h-1zM264 279h2v1h-2zM238 280h1v3h-1zM264 280h1v1h-1zM247 281h1v4h-1zM239 283h1v3h-1zM215 285h1v5h-1zM234 285h1v7h-1zM246 285h1v4h-1zM216 286h1v1h-1zM240 286h1v4h-1zM217 287h1v2h-1zM218 289h1v1h-1zM245 289h1v3h-1zM214 290h1v10h-1zM219 290h1v1h-1zM241 290h1v3h-1zM220 291h1v2h-1zM233 292h1v6h-1zM244 292h1v4h-1zM221 293h1v1h-1zM242 293h1v3h-1zM504 293h1v35h-1zM222 294h1v2h-1zM223 296h1v4h-1zM243 296h1v2h-1zM232 298h1v6h-1zM213 300h1v10h-1zM224 300h1v4h-1zM225 304h1v3h-1zM231 304h1v7h-1zM226 307h1v4h-1zM212 310h1v10h-1zM227 311h1v4h-1zM230 311h1v6h-1zM201 314h1v3h-1zM228 315h1v4h-1zM200 317h1v5h-1zM202 317h1v6h-1zM229 317h1v4h-1zM211 320h1v9h-1zM199 322h1v5h-1zM203 323h1v5h-1zM198 327h1v6h-1zM204 328h1v6h-1zM505 328h1v35h-1zM210 329h1v10h-1zM197 333h1v5h-1zM180 334h1v4h-1zM205 334h1v6h-1zM181 337h1v4h-1zM179 338h1v8h-1zM196 338h1v5h-1zM209 339h1v10h-1zM206 340h1v5h-1zM182 341h1v4h-1zM195 343h1v5h-1zM183 345h1v4h-1zM207 345h1v6h-1zM178 346h1v8h-1zM194 348h1v4h-1zM184 349h1v5h-1zM208 349h1v5h-1zM166 352h1v3h-1zM193 352h1v2h-1zM177 354h1v8h-1zM185 354h1v4h-1zM192 354h1v2h-1zM165 355h1v6h-1zM167 355h1v5h-1zM191 356h1v2h-1zM186 358h1v4h-1zM190 358h1v2h-1zM168 360h1v5h-1zM189 360h1v2h-1zM164 361h1v6h-1zM176 362h1v7h-1zM187 362h1v3h-1zM188 362h1v2h-1zM506 363h1v35h-1zM169 365h1v5h-1zM163 367h1v6h-1zM175 369h1v8h-1zM170 370h1v6h-1zM162 373h1v5h-1zM171 376h1v5h-1zM139 377h1v2h-1zM174 377h1v8h-1zM161 378h1v6h-1zM138 379h1v3h-1zM140 379h1v2h-1zM141 381h1v2h-1zM172 381h1v5h-1zM137 382h1v4h-1zM142 383h1v2h-1zM160 384h1v6h-1zM143 385h1v3h-1zM173 385h1v4h-1zM136 386h1v3h-1zM144 388h1v2h-1zM135 389h1v3h-1zM145 390h1v2h-1zM159 390h1v3h-1zM134 392h1v4h-1zM146 392h1v2h-1zM158 393h1v2h-1zM147 394h1v1h-1zM148 395h1v1h-1zM157 395h1v1h-1zM133 396h1v3h-1zM149 396h1v1h-1zM156 396h1v1h-1zM150 397h1v1h-1zM155 397h1v2h-1zM151 398h1v1h-1zM507 398h1v18h-1zM132 399h1v2h-1zM152 399h1v1h-1zM154 399h1v1h-1zM153 400h1v1h-1zM130 401h2v1h-2zM128 402h2v1h-2zM126 403h2v1h-2zM125 404h1v1h-1zM124 405h1v2h-1zM123 407h1v2h-1zM122 409h1v2h-1zM121 411h1v1h-1zM120 412h1v2h-1zM527 413h1v1h-1zM119 414h1v2h-1zM526 414h1v2h-1zM528 414h1v2h-1zM118 416h1v1h-1zM508 416h1v1h-1zM525 416h1v1h-1zM529 416h1v2h-1zM117 417h1v1h-1zM509 417h1v1h-1zM524 417h1v2h-1zM97 418h4v1h-4zM116 418h1v1h-1zM510 418h1v1h-1zM530 418h1v2h-1zM101 419h5v1h-5zM114 419h2v1h-2zM511 419h1v2h-1zM523 419h1v2h-1zM106 420h2v1h-2zM113 420h1v1h-1zM531 420h1v2h-1zM108 421h2v1h-2zM112 421h1v1h-1zM512 421h1v1h-1zM522 421h1v1h-1zM110 422h2v1h-2zM513 422h1v1h-1zM521 422h1v2h-1zM532 422h1v2h-1zM514 423h3v1h-3zM517 424h4v1h-4zM533 424h1v2h-1zM534 426h1v2h-1z"/>
</svg>
</body></html>
